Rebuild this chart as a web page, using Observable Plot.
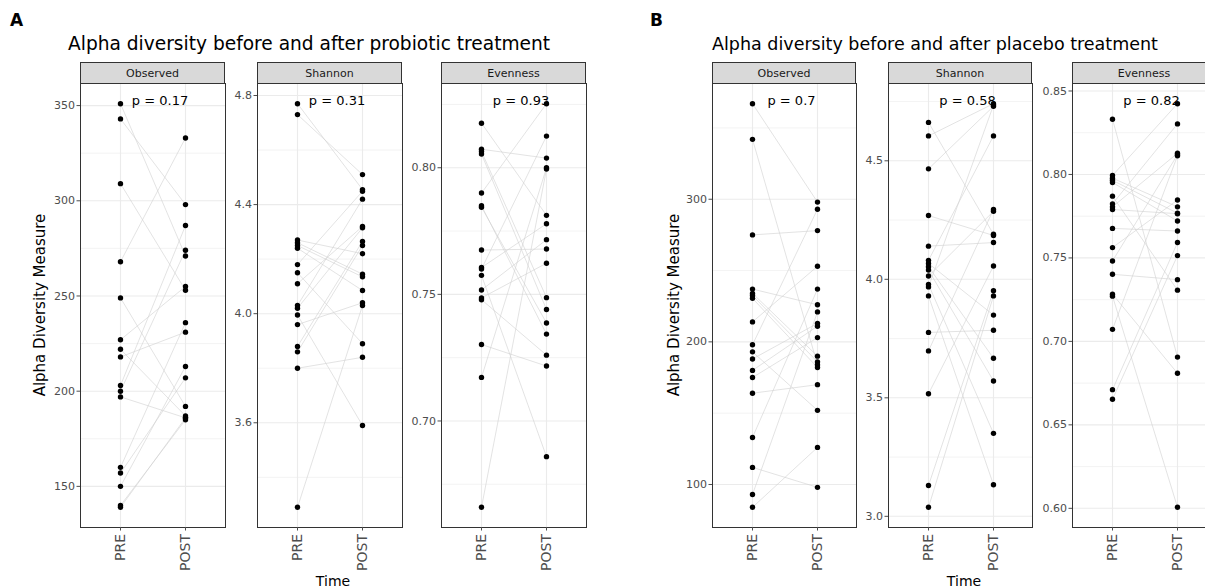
<!DOCTYPE html>
<html><head><meta charset="utf-8">
<script src="https://cdn.jsdelivr.net/npm/d3@7"></script>
<script src="https://cdn.jsdelivr.net/npm/@observablehq/plot@0.6"></script>
<style>
body{margin:0;background:#fff;}
#fig{position:relative;width:1205px;height:588px;overflow:hidden;font-family:"DejaVu Sans",sans-serif;background:#fff;}
.abs{position:absolute;white-space:nowrap;line-height:1;}
.strip{position:absolute;box-sizing:border-box;background:#d9d9d9;border:1px solid #333;display:flex;align-items:center;justify-content:center;font-size:11px;color:#1a1a1a;}
</style></head><body><div id="fig"></div>
<script>
// ---------- data ----------
const times = ["PRE", "POST"];
const metrics = ["Observed", "Shannon", "Evenness"];

// Probiotic group (A), paired by index: PRE[i] -> POST[i]
const probioticObservedPre  = [351, 343, 309, 268, 249, 227, 222, 218, 203, 200, 197, 160, 157, 150, 140, 139];
const probioticObservedPost = [271, 298, 253, 333, 192, 255, 187, 231, 287, 274, 186, 236, 207, 213, 185, 186];
const probioticShannonPre   = [4.77, 4.73, 4.27, 4.26, 4.25, 4.24, 4.18, 4.15, 4.11, 4.03, 4.02, 3.995, 3.96, 3.88, 3.86, 3.80, 3.29];
const probioticShannonPost  = [4.455, 4.51, 4.22, 4.145, 4.135, 4.085, 4.449, 3.89, 4.32, 4.42, 4.315, 3.59, 4.04, 4.265, 4.25, 3.84, 4.03];
const probioticEvennessPre  = [0.8176, 0.8073, 0.8064, 0.8054, 0.790, 0.785, 0.7844, 0.7675, 0.7606, 0.7600, 0.7575, 0.7517, 0.7486, 0.7479, 0.7302, 0.7172, 0.6659];
const probioticEvennessPost = [0.7812, 0.8038, 0.7487, 0.7440, 0.8253, 0.7343, 0.7387, 0.7679, 0.7779, 0.8125, 0.6859, 0.7716, 0.7623, 0.7260, 0.7217, 0.8000, 0.7995];

// Placebo group (B)
const placeboObservedPre  = [367, 342, 275, 237, 234, 232.5, 230.5, 214, 198, 193, 188, 180, 175, 164, 133, 112, 93, 84];
const placeboObservedPost = [298, 184, 278, 226, 190, 186, 182, 253, 293, 152, 213, 211, 203, 170, 237, 98, 221, 126];
const placeboShannonPre   = [4.662, 4.605, 4.466, 4.269, 4.14, 4.08, 4.067, 4.053, 4.039, 4.014, 3.978, 3.968, 3.93, 3.776, 3.698, 3.517, 3.13, 3.038];
const placeboShannonPost  = [4.19, 4.741, 4.73, 4.185, 4.155, 4.605, 3.849, 3.667, 3.571, 4.287, 3.35, 4.735, 3.133, 3.785, 4.295, 4.056, 3.952, 3.93];
const placeboEvennessPre  = [0.8331, 0.7994, 0.7978, 0.7965, 0.7952, 0.787, 0.7824, 0.7806, 0.779, 0.7677, 0.7562, 0.7482, 0.7402, 0.7283, 0.7271, 0.7072, 0.6711, 0.6653];
const placeboEvennessPost = [0.6906, 0.8424, 0.7806, 0.7768, 0.7721, 0.7307, 0.8303, 0.8127, 0.7765, 0.7661, 0.7847, 0.8118, 0.737, 0.6809, 0.6006, 0.8112, 0.7592, 0.7514];

// tick labels
const probioticTicks = [[150, 200, 250, 300, 350], [3.6, 4.0, 4.4, 4.8], [0.70, 0.75, 0.80]];
const placeboTicks   = [[100, 200, 300], [3.0, 3.5, 4.0, 4.5], [0.60, 0.65, 0.70, 0.75, 0.80, 0.85]];
const tickFormats = [d3.format("d"), d3.format(".1f"), d3.format(".2f")];

const probioticP = ["p = 0.17", "p = 0.31", "p = 0.93"];
const placeboP   = ["p = 0.7", "p = 0.58", "p = 0.82"];

const titleA = "Alpha diversity before and after probiotic treatment";
const titleB = "Alpha diversity before and after placebo treatment";
const yTitle = "Alpha Diversity Measure";
const xTitle = "Time";

// ---------- layout ----------
const fig = document.getElementById("fig");
const PANEL_TOP = 83, PANEL_H = 444, STRIP_TOP = 62;

function addText(txt, left, top, css) {
  const d = document.createElement("div");
  d.className = "abs";
  d.textContent = txt;
  d.style.left = left + "px";
  d.style.top = top + "px";
  Object.assign(d.style, css || {});
  fig.appendChild(d);
  return d;
}

function drawPanel(x0, w, metric, pre, post, ticks, fmt, pLabel) {
  const s = document.createElement("div");
  s.className = "strip";
  s.style.left = x0 + "px"; s.style.top = STRIP_TOP + "px";
  s.style.width = w + "px"; s.style.height = (PANEL_TOP - STRIP_TOP + 1) + "px";
  s.textContent = metric;
  fig.appendChild(s);

  const all = pre.concat(post);
  const lo = d3.min(all), hi = d3.max(all), pad = (hi - lo) * 0.05;
  const domain = [lo - pad, hi + pad];
  const step = ticks[1] - ticks[0];
  const minor = [];
  for (let k = -1; k <= ticks.length; k++) {
    const t = ticks[0] + (k + 0.5) * step;
    if (t >= domain[0] && t <= domain[1]) minor.push(t);
  }
  const pairs = pre.map((v, i) => ({from: "PRE", to: "POST", pre: v, post: post[i]}));
  const pts = pre.map(v => ({time: "PRE", value: v})).concat(post.map(v => ({time: "POST", value: v})));
  const mL = 45, mR = 2, mB = 60;
  const chart = Plot.plot({
    width: mL + w + mR, height: PANEL_H + mB,
    marginLeft: mL, marginRight: mR, marginTop: 0, marginBottom: mB,
    style: {fontFamily: "DejaVu Sans", background: "transparent", overflow: "visible"},
    x: {type: "point", domain: times, padding: 0.6},
    y: {domain},
    marks: [
      Plot.gridY(minor, {stroke: "#ebebeb", strokeOpacity: 1, strokeWidth: 0.6}),
      Plot.gridY(ticks, {stroke: "#ebebeb", strokeOpacity: 1, strokeWidth: 1.1}),
      Plot.gridX(times, {stroke: "#ebebeb", strokeOpacity: 1, strokeWidth: 1.1}),
      Plot.link(pairs, {x1: "from", y1: "pre", x2: "to", y2: "post", stroke: "#d0d0d0", strokeWidth: 0.6}),
      Plot.dot(pts, {x: "time", y: "value", r: 2.7, fill: "#000", stroke: "none"}),
      Plot.frame({stroke: "#333", strokeWidth: 1}),
      Plot.axisY(ticks, {tickFormat: fmt, fontSize: 11, tickSize: 3.5, tickPadding: 2, color: "#4d4d4d", label: null}),
      Plot.axisX(times, {tickRotate: -90, fontSize: 14, tickSize: 3.5, tickPadding: 3, color: "#4d4d4d", label: null}),
      Plot.text([pLabel], {text: d => d, frameAnchor: "top", dx: 7, dy: 12, fontSize: 13, fill: "#000"})
    ]
  });
  chart.style.position = "absolute";
  chart.style.left = (x0 - mL) + "px";
  chart.style.top = PANEL_TOP + "px";
  fig.appendChild(chart);
}

// Panel A
addText("A", 10, 12, {fontSize: "17px", fontWeight: "bold", color: "#000"});
addText(titleA, 68, 35, {fontSize: "18.6px", color: "#000"});
const xA = [80, 257, 441], wA = 145;
const dataA = [[probioticObservedPre, probioticObservedPost], [probioticShannonPre, probioticShannonPost], [probioticEvennessPre, probioticEvennessPost]];
metrics.forEach((m, i) => drawPanel(xA[i], wA, m, dataA[i][0], dataA[i][1], probioticTicks[i], tickFormats[i], probioticP[i]));
addText(yTitle, 40, 305, {fontSize: "15px", color: "#000", transform: "translate(-50%,-50%) rotate(-90deg)"});
addText(xTitle, 333, 581, {fontSize: "14px", color: "#000", transform: "translate(-50%,-50%)"});

// Panel B
addText("B", 650, 12, {fontSize: "17px", fontWeight: "bold", color: "#000"});
addText(titleB, 712, 36, {fontSize: "17.5px", color: "#000"});
const xB = [712, 888, 1072], wB = 144;
const dataB = [[placeboObservedPre, placeboObservedPost], [placeboShannonPre, placeboShannonPost], [placeboEvennessPre, placeboEvennessPost]];
metrics.forEach((m, i) => drawPanel(xB[i], wB, m, dataB[i][0], dataB[i][1], placeboTicks[i], tickFormats[i], placeboP[i]));
addText(yTitle, 674, 305, {fontSize: "15px", color: "#000", transform: "translate(-50%,-50%) rotate(-90deg)"});
addText(xTitle, 964, 581, {fontSize: "14px", color: "#000", transform: "translate(-50%,-50%)"});
</script></body></html>
